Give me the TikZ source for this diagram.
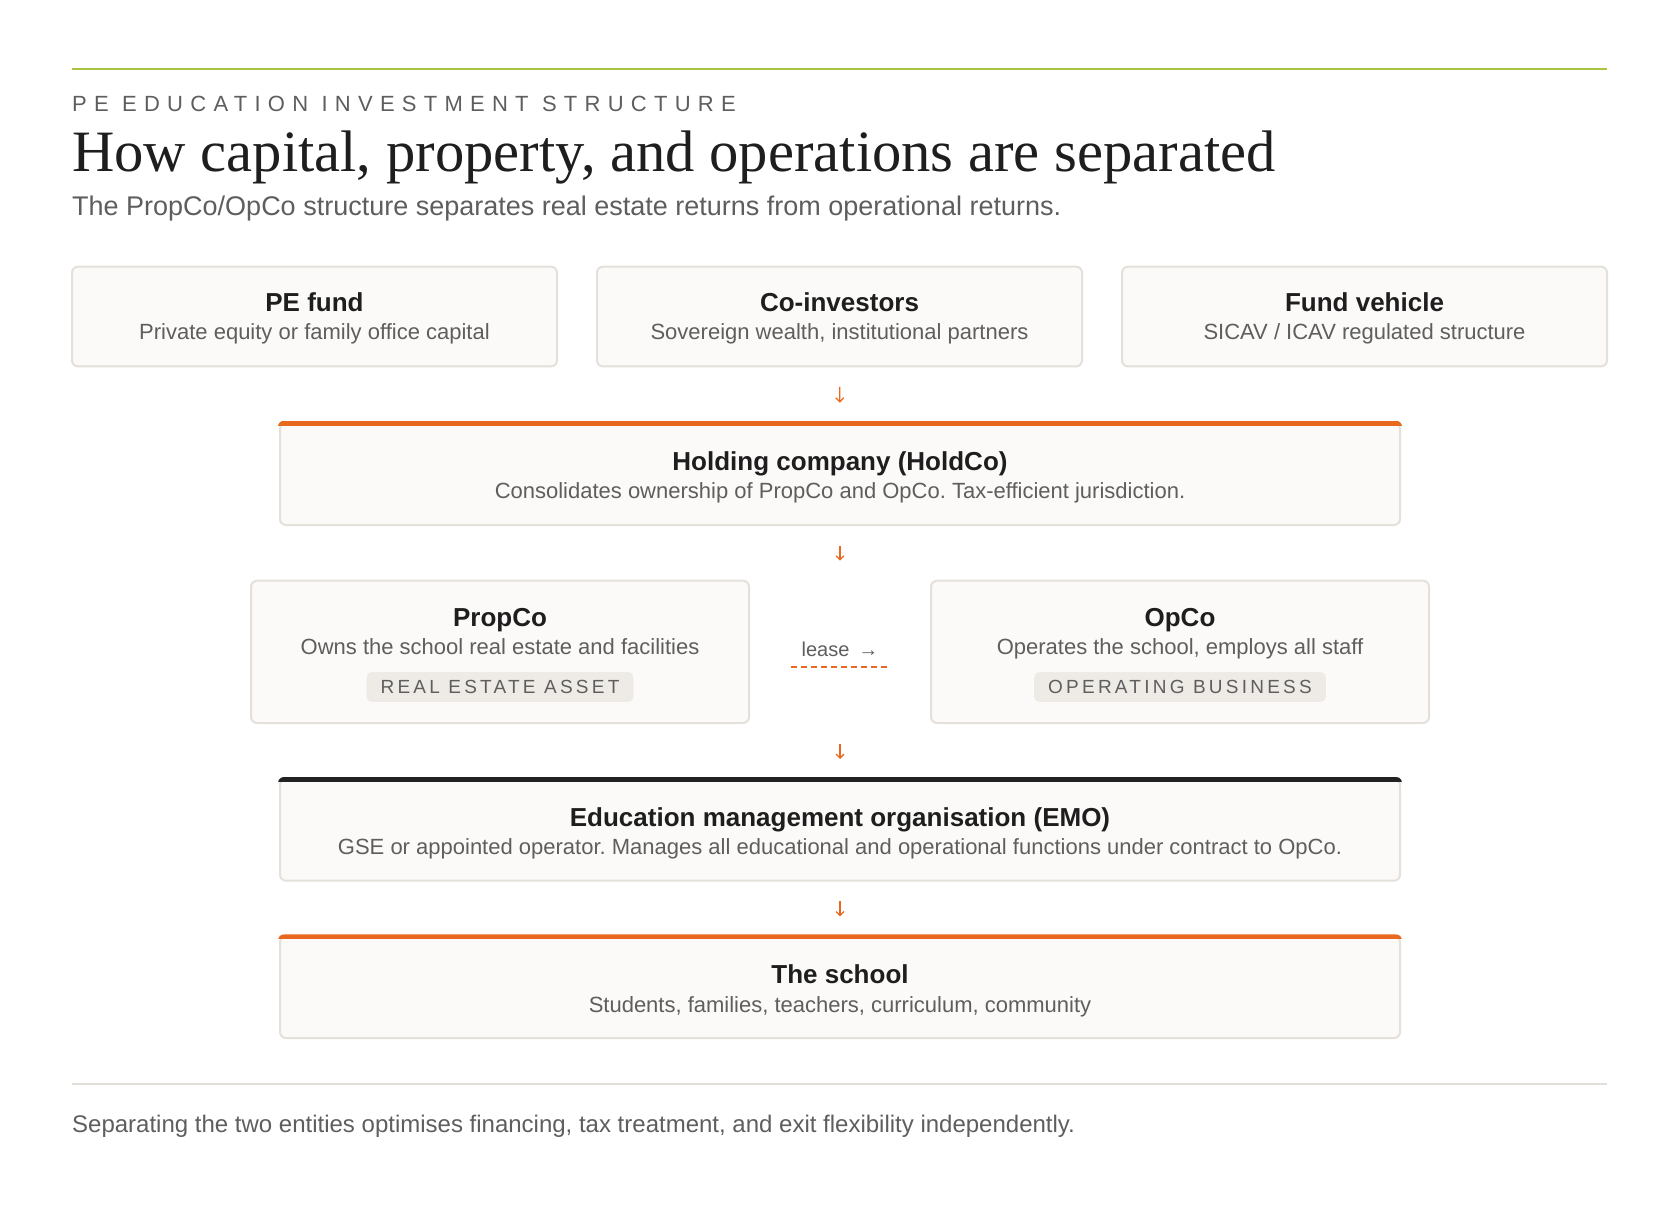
\documentclass[tikz,border=0pt]{standalone}
\usepackage{fontspec}
\setmainfont{Liberation Sans}
\newfontfamily\seriffont{Liberation Serif}
\newfontfamily\kickerfont[LetterSpace=33]{Liberation Sans}
\newfontfamily\badgefont[LetterSpace=17]{Liberation Sans}
\usetikzlibrary{arrows.meta,calc}
\definecolor{accent}{HTML}{E8681F}
\definecolor{darkstrip}{HTML}{222222}
\definecolor{ink}{HTML}{1E1E1E}
\definecolor{muted}{HTML}{5E5E5E}
\definecolor{boxfill}{HTML}{FBFAF8}
\definecolor{boxline}{HTML}{E4E1DA}
\definecolor{badgefill}{HTML}{EEEBE6}
\definecolor{greenline}{HTML}{A9C440}
\definecolor{sepline}{HTML}{E2DFD8}
\tikzset{
  card/.style={draw=boxline, fill=boxfill, line width=2pt, rounded corners=6pt, inner sep=0pt},
  ttl/.style={anchor=base, inner sep=0pt, text=ink, font=\fontsize{26}{30}\selectfont\bfseries},
  subt/.style={anchor=base, inner sep=0pt, text=muted, font=\fontsize{22}{26}\selectfont},
  badge/.style={fill=badgefill, rounded corners=5pt, inner xsep=14pt, inner ysep=0pt, minimum height=29.7pt, text=muted, font=\fontsize{19}{22}\selectfont\badgefont},
  flow/.style={draw=accent, line width=1.3pt, -{Straight Barb[length=4pt,width=8pt]}, shorten <=19.5pt, shorten >=19pt},
  leaseline/.style={draw=accent, line width=2pt, dash pattern=on 6pt off 4pt, shorten <=41pt, shorten >=41pt},
}
\frenchspacing
\begin{document}
\begin{tikzpicture}[x=1pt,y=-1pt]
\useasboundingbox[fill=white] (0,0) rectangle (1680,1214);

% header
\coordinate (gl) at (72,68.6);
\coordinate (gr) at (1607,68.6);
\draw[greenline, line width=2pt] (gl) -- (gr);
\node[anchor=base west, inner sep=0pt, text=muted, font=\fontsize{22}{26}\selectfont\kickerfont] (kicker) at (72,111.4) {PE EDUCATION INVESTMENT STRUCTURE};
\node[anchor=base west, inner sep=0pt, text=ink, font=\fontsize{58.6}{66}\selectfont\seriffont] (title) at (72,171.4) {How capital, property, and operations are separated};
\node[anchor=base west, inner sep=0pt, text=muted, font=\fontsize{27}{31}\selectfont] (subtitle) at (72,215.4) {The PropCo/OpCo structure separates real estate returns from operational returns.};

% top row
\node[card, minimum width=485pt, minimum height=99.7pt] (pe) at (314.5,316.55) {};
\node[ttl] (pe-t) at (314.5,311.7) {PE fund};
\node[subt] (pe-s) at (314.5,340) {Private equity or family office capital};

\node[card, minimum width=485pt, minimum height=99.7pt] (coinv) at (839.5,316.55) {};
\node[ttl] (coinv-t) at (839.5,311.7) {Co-investors};
\node[subt] (coinv-s) at (839.5,340) {Sovereign wealth, institutional partners};

\node[card, minimum width=485pt, minimum height=99.7pt] (fv) at (1364.5,316.55) {};
\node[ttl] (fv-t) at (1364.5,311.7) {Fund vehicle};
\node[subt] (fv-s) at (1364.5,340) {SICAV / ICAV regulated structure};

% holdco
\node[card, minimum width=1120pt, minimum height=102.3pt] (holdco) at (840,473.85) {};
\begin{scope}
  \clip[rounded corners=6pt] ($(holdco.north west)+(-1,-1)$) rectangle ($(holdco.south east)+(1,1)$);
  \fill[accent] ($(holdco.north west)+(-1,-1)$) rectangle ($(holdco.north east)+(1,4)$);
\end{scope}
\node[ttl] (holdco-t) at (840,470) {Holding company (HoldCo)};
\node[subt] (holdco-s) at (840,498) {Consolidates ownership of PropCo and OpCo. Tax-efficient jurisdiction.};

% propco / opco
\node[card, minimum width=498pt, minimum height=142.3pt] (propco) at (500,651.85) {};
\node[ttl] (propco-t) at (500,626) {PropCo};
\node[subt] (propco-s) at (500,654) {Owns the school real estate and facilities};
\node[badge] (propco-b) at (500,687) {REAL ESTATE ASSET};

\node[card, minimum width=498pt, minimum height=142.3pt] (opco) at (1180,651.85) {};
\node[ttl] (opco-t) at (1180,626) {OpCo};
\node[subt] (opco-s) at (1180,654) {Operates the school, employs all staff};
\node[badge] (opco-b) at (1180,687) {OPERATING BUSINESS};

\node[anchor=base, inner sep=0pt, text=muted, font=\fontsize{20}{24}\selectfont] (lease) at (840,656) {lease \,→};
\draw[leaseline] ($(propco.east)+(0,14.85)$) -- ($(opco.west)+(0,14.85)$);

% emo
\node[card, minimum width=1120pt, minimum height=101.7pt] (emo) at (840,829.85) {};
\begin{scope}
  \clip[rounded corners=6pt] ($(emo.north west)+(-1,-1)$) rectangle ($(emo.south east)+(1,1)$);
  \fill[darkstrip] ($(emo.north west)+(-1,-1)$) rectangle ($(emo.north east)+(1,4)$);
\end{scope}
\node[ttl] (emo-t) at (840,826) {Education management organisation (EMO)};
\node[subt] (emo-s) at (840,854.5) {GSE or appointed operator. Manages all educational and operational functions under contract to OpCo.};

% school
\node[card, minimum width=1120pt, minimum height=101.6pt] (school) at (840,987.2) {};
\begin{scope}
  \clip[rounded corners=6pt] ($(school.north west)+(-1,-1)$) rectangle ($(school.south east)+(1,1)$);
  \fill[accent] ($(school.north west)+(-1,-1)$) rectangle ($(school.north east)+(1,4)$);
\end{scope}
\node[ttl] (school-t) at (840,983.5) {The school};
\node[subt] (school-s) at (840,1012) {Students, families, teachers, curriculum, community};

% flow arrows
\coordinate (midtop) at (holdco.south |- propco.north);
\coordinate (midbot) at (holdco.south |- propco.south);
\draw[flow] (coinv.south) -- (holdco.north);
\draw[flow] (holdco.south) -- (midtop);
\draw[flow] (midbot) -- (emo.north);
\draw[flow] (emo.south) -- (school.north);

% footer
\coordinate (sl) at (72,1084.3);
\coordinate (sr) at (1607,1084.3);
\draw[sepline, line width=2pt] (sl) -- (sr);
\node[anchor=base west, inner sep=0pt, text=muted, font=\fontsize{24}{28}\selectfont] (footer) at (72,1132.5) {Separating the two entities optimises financing, tax treatment, and exit flexibility independently.};
\end{tikzpicture}
\end{document}
